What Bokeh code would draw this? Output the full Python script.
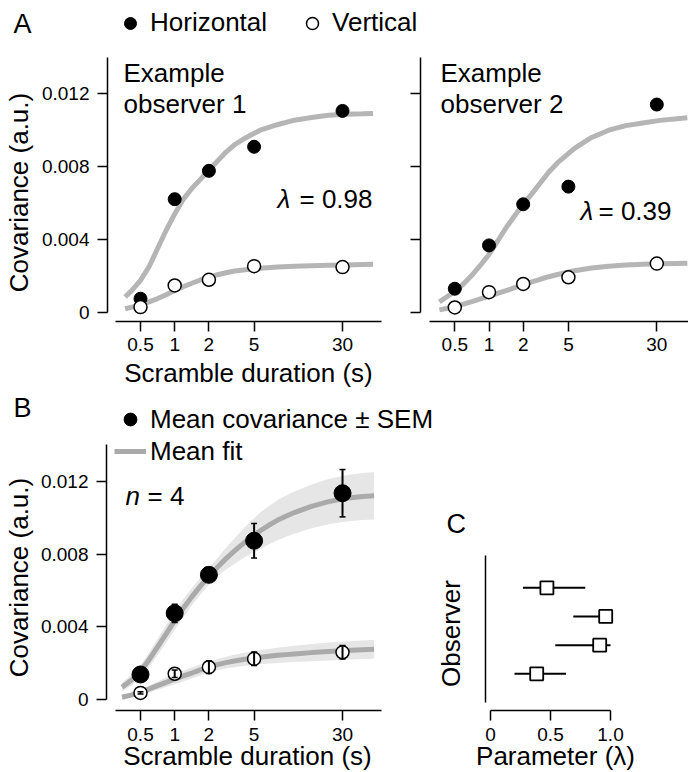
import math
from bokeh.plotting import figure
from bokeh.models import (Range1d, FixedTicker, Label, Legend, LegendItem, LogAxis,
                          LinearAxis, LogScale, LinearScale, ColumnDataSource,
                          Whisker, TeeHead)
from bokeh.embed import file_html
from bokeh.resources import INLINE

FONT = "Liberation Sans"

# ---------------- data ----------------
durations = [0.5, 1, 2, 5, 30]
duration_ticks = [0.5, 1, 2, 5, 30]
duration_tick_labels = ["0.5", "1", "2", "5", "30"]
cov_ticks = [0, 0.004, 0.008, 0.012]
cov_tick_labels = ["0", "0.004", "0.008", "0.012"]

# Panel A: example observers
obs1_horizontal = [0.00074, 0.00621, 0.00777, 0.00909, 0.01106]
obs1_vertical = [0.00028, 0.00147, 0.00178, 0.00253, 0.00248]
obs2_horizontal = [0.00129, 0.00367, 0.00593, 0.00690, 0.01141]
obs2_vertical = [0.00026, 0.00110, 0.00155, 0.00192, 0.00267]

fit_durations = [0.366, 0.42, 0.5, 0.595, 0.707, 0.841, 1.0, 1.189, 1.414, 1.682, 2.0,
                 2.378, 2.828, 3.364, 4.0, 5.657, 8.0, 11.31, 16.0, 22.63, 32.0, 45.25, 55.7]
obs1_fit_horizontal = [0.00083, 0.0012, 0.00175, 0.0025, 0.0035, 0.0045, 0.0054, 0.0062,
                       0.0068, 0.0073, 0.0078, 0.0083, 0.0088, 0.0092, 0.0095, 0.0100,
                       0.0103, 0.01055, 0.0107, 0.01082, 0.01088, 0.0109, 0.01092]
obs1_fit_vertical = [0.00019, 0.00028, 0.00042, 0.00057, 0.00075, 0.00096, 0.00119, 0.0014,
                     0.00159, 0.00177, 0.00193, 0.00206, 0.00217, 0.00226, 0.00232, 0.00242,
                     0.00248, 0.00252, 0.00255, 0.00258, 0.0026, 0.00262, 0.00263]
obs2_fit_horizontal = [0.00057, 0.00082, 0.00114, 0.00155, 0.00203, 0.00258, 0.00317, 0.0039,
                       0.00464, 0.0053, 0.00593, 0.0065, 0.0071, 0.0077, 0.0082, 0.0090,
                       0.0096, 0.0100, 0.01025, 0.0104, 0.01054, 0.01063, 0.01068]
obs2_fit_vertical = [0.00013, 0.0002, 0.00031, 0.00044, 0.00058, 0.00073, 0.00087, 0.00103,
                     0.00118, 0.00135, 0.00151, 0.00166, 0.00181, 0.00195, 0.00207, 0.00228,
                     0.00243, 0.00253, 0.00259, 0.00263, 0.00266, 0.00268, 0.00269]
obs1_lambda = "0.98"
obs2_lambda = "0.39"

# Panel B: mean over observers
mean_horizontal = [0.00139, 0.00475, 0.00686, 0.00873, 0.01134]
sem_horizontal = [0.00015, 0.0005, 0.0002, 0.00095, 0.0013]
mean_vertical = [0.00038, 0.00143, 0.00179, 0.00225, 0.00261]
sem_vertical = [0.00006, 0.0002, 0.00035, 0.00037, 0.00037]

mean_fit_durations = [0.344, 0.42, 0.5, 0.595, 0.707, 0.841, 1.0, 1.189, 1.414, 1.682, 2.0,
                      2.378, 2.828, 3.364, 4.0, 4.757, 5.657, 6.727, 8.0, 9.514, 11.31,
                      16.0, 22.63, 32.0, 45.25, 56.9]
mean_fit_horizontal = [0.00069, 0.0011, 0.00155, 0.0022, 0.0029, 0.00362, 0.00435, 0.00502,
                       0.00565, 0.00624, 0.00678, 0.00728, 0.00775, 0.00817, 0.00857, 0.00894,
                       0.00928, 0.00958, 0.00985, 0.01008, 0.01028, 0.01062, 0.01088, 0.01106,
                       0.01116, 0.0112]
band_horizontal_halfwidth = [0.00025, 0.0003, 0.00035, 0.0004, 0.00045, 0.00048, 0.0005, 0.0005,
                             0.00048, 0.00046, 0.00046, 0.0005, 0.0006, 0.0007, 0.0008, 0.0009,
                             0.001, 0.00105, 0.0011, 0.00113, 0.00116, 0.0012, 0.00124, 0.00127,
                             0.00129, 0.0013]
mean_fit_vertical = [0.00014, 0.00027, 0.00042, 0.00059, 0.00078, 0.00096, 0.00114, 0.00131,
                     0.00147, 0.00164, 0.0018, 0.00193, 0.00204, 0.00213, 0.00221, 0.00228,
                     0.00234, 0.00239, 0.00244, 0.00248, 0.00252, 0.00259, 0.00265, 0.0027,
                     0.00275, 0.00278]
band_vertical_halfwidth = [0.0001, 0.00013, 0.00017, 0.0002, 0.00023, 0.00026, 0.00028, 0.00029,
                           0.0003, 0.0003, 0.0003, 0.00031, 0.00032, 0.00034, 0.00036, 0.00037,
                           0.00039, 0.0004, 0.00042, 0.00043, 0.00045, 0.00047, 0.00049, 0.0005,
                           0.00051, 0.00052]
n_observers = "4"

# Panel C: fitted parameter per observer (bottom to top)
observers = [1, 2, 3, 4]
lambda_estimate = [0.385, 0.91, 0.96, 0.47]
lambda_low = [0.20, 0.54, 0.69, 0.27]
lambda_high = [0.63, 1.0, 1.0, 0.79]
lambda_ticks = [0, 0.5, 1.0]
lambda_tick_labels = ["0", "0.5", "1.0"]

# ---------------- layout helpers (page pixels) ----------------
W, H = 688, 772
FIT_COLOR = "#b5b5b5"
MEAN_FIT_COLOR = "#aaaaaa"
BAND_COLOR = "#e6e6e6"
TICK_SIZE = "19px"
TITLE_PX = 26
TITLE_SIZE = "%dpx" % TITLE_PX


def log_range(px_at, val_at, ppd):
    return Range1d(val_at * 2 ** (-px_at / ppd), val_at * 2 ** ((W - px_at) / ppd))


def log_at(px, px_at, val_at, ppd):
    return val_at * 2 ** ((px - px_at) / ppd)


def lin_x_range(p0, p1, v0, v1):
    k = (v1 - v0) / (p1 - p0)
    return Range1d(v0 - p0 * k, v0 + (W - p0) * k)


def lin_y_range(p0, p1, v0, v1):
    k = (v1 - v0) / (p0 - p1)
    return Range1d(v0 - (H - p0) * k, v0 + p0 * k)


def lin_at(px, p0, p1, v0, v1):
    return v0 + (px - p0) * (v1 - v0) / (p1 - p0)


# scale anchors
AX = (140, 0.5, 34.2)            # panel A left and panel B duration axis
A2X = (454.3, 0.5, 34.2)         # panel A right duration axis
AY = (311.7, 93.3, 0, 0.012)     # panel A covariance axis
BY = (699.3, 480.7, 0, 0.012)    # panel B covariance axis
CX = (490, 610, 0, 1)            # panel C parameter axis
CY = (673.3, 587.3, 1, 4)        # panel C observer axis

p = figure(width=W, height=H, x_axis_type="log", x_axis_location=None, y_axis_location=None,
           x_range=log_range(*AX), y_range=lin_y_range(*AY), title=None,
           output_backend="svg", toolbar_location=None,
           min_border=0, min_border_left=0, min_border_right=0,
           min_border_top=0, min_border_bottom=0)
p.extra_x_ranges = {"a2": log_range(*A2X), "c": lin_x_range(*CX)}
p.extra_x_scales = {"a2": LogScale(), "c": LinearScale()}
p.extra_y_ranges = {"b": lin_y_range(*BY), "c": lin_y_range(*CY)}
p.extra_y_scales = {"b": LinearScale(), "c": LinearScale()}
p.outline_line_color = None
p.grid.visible = False
p.background_fill_color = "white"
p.border_fill_color = "white"


def add_axis(kind, side, ticks, labels, bounds, fixed, x_name="default", y_name="default",
             tick_out=10, standoff=8, label_size=TICK_SIZE):
    ax = kind(x_range_name=x_name, y_range_name=y_name, fixed_location=fixed, bounds=bounds)
    ax.ticker = FixedTicker(ticks=ticks, minor_ticks=[])
    overrides = {}
    for t, l in zip(ticks, labels):
        overrides[t] = l
        overrides[str(t)] = l
    ax.major_label_overrides = overrides
    ax.axis_line_width = 1.5
    ax.axis_line_color = "black"
    ax.major_tick_line_width = 1.5
    ax.major_tick_line_color = "black"
    ax.major_tick_out = tick_out
    ax.major_tick_in = 0
    ax.minor_tick_line_color = None
    ax.major_label_text_font = FONT
    ax.major_label_text_font_size = label_size
    ax.major_label_text_color = "black"
    ax.major_label_standoff = standoff
    p.add_layout(ax, side)
    return ax


def add_text(X, Y, text, size_px=TITLE_PX, style="normal", align="left", vertical=False):
    # X, Y: page position of the text's baseline start (or baseline centre)
    shift = 0.35 * size_px
    if vertical:
        x, y, angle = X - shift, H - Y, math.pi / 2
    else:
        x, y, angle = X, H - Y + shift, 0.0
    p.add_layout(Label(x=x, y=y, x_units="screen", y_units="screen", text=text,
                       text_font=FONT, text_font_size="%dpx" % size_px,
                       text_font_style=style, text_color="black", text_align=align,
                       text_baseline="alphabetic", angle=angle))


# ---------------- axes ----------------
a_xaxis_y = lin_at(321, *AY)
b_xaxis_y = lin_at(710, *BY)
add_axis(LogAxis, "below", duration_ticks, duration_tick_labels,
         (log_at(115, *AX), log_at(381, *AX)), a_xaxis_y, standoff=6)
add_axis(LinearAxis, "left", cov_ticks, cov_tick_labels, (0, 0.014),
         log_at(107, *AX), standoff=8)
add_axis(LogAxis, "below", duration_ticks, duration_tick_labels,
         (log_at(429, *A2X), log_at(W, *A2X)), a_xaxis_y, x_name="a2", standoff=6)
add_axis(LinearAxis, "left", cov_ticks, ["" for _ in cov_ticks], (0, 0.014),
         log_at(420, *A2X), x_name="a2", standoff=0, label_size="0px")
add_axis(LogAxis, "below", duration_ticks, duration_tick_labels,
         (log_at(115, *AX), log_at(381, *AX)), b_xaxis_y, y_name="b", standoff=7)
add_axis(LinearAxis, "left", cov_ticks, cov_tick_labels, (0, 0.014),
         log_at(106, *AX), y_name="b", standoff=8)
add_axis(LinearAxis, "below", lambda_ticks, lambda_tick_labels, (0, 1.0),
         lin_at(710, *CY), x_name="c", y_name="c", standoff=7)
add_axis(LinearAxis, "left", [], [], (lin_at(702, *CY), lin_at(555, *CY)),
         lin_at(485, *CX), x_name="c", y_name="c", tick_out=0, standoff=0)

# ---------------- Panel A ----------------
p.line(fit_durations, obs1_fit_horizontal, line_color=FIT_COLOR, line_width=5)
p.line(fit_durations, obs1_fit_vertical, line_color=FIT_COLOR, line_width=5)
rA_h = p.scatter(durations, obs1_horizontal, marker="circle", size=13,
                 fill_color="black", line_color="black")
rA_v = p.scatter(durations, obs1_vertical, marker="circle", size=13,
                 fill_color="white", line_color="black", line_width=1.5)

p.line(fit_durations, obs2_fit_horizontal, line_color=FIT_COLOR, line_width=5, x_range_name="a2")
p.line(fit_durations, obs2_fit_vertical, line_color=FIT_COLOR, line_width=5, x_range_name="a2")
p.scatter(durations, obs2_horizontal, marker="circle", size=13, x_range_name="a2",
          fill_color="black", line_color="black")
p.scatter(durations, obs2_vertical, marker="circle", size=13, x_range_name="a2",
          fill_color="white", line_color="black", line_width=1.5)

add_text(13, 33, "A", size_px=27)
add_text(123, 82, "Example")
add_text(123, 113, "observer 1")
add_text(277, 208, "\u03bb", style="italic")
add_text(299, 208, "= " + obs1_lambda)
add_text(440, 82, "Example")
add_text(440, 113, "observer 2")
add_text(580, 220, "\u03bb", style="italic")
add_text(598, 220, "= " + obs2_lambda)
add_text(28, 192, "Covariance (a.u.)", align="center", vertical=True)
add_text(248, 382, "Scramble duration (s)", align="center")

legA = Legend(items=[LegendItem(label="Horizontal", renderers=[rA_h]),
                     LegendItem(label="Vertical", renderers=[rA_v])],
              orientation="horizontal", location=(115, H - 38),
              glyph_width=30, glyph_height=30, label_standoff=5, spacing=30,
              padding=0, margin=0, border_line_color=None, background_fill_alpha=0,
              label_text_font=FONT, label_text_font_size=TITLE_SIZE, label_text_color="black")
p.add_layout(legA)

# ---------------- Panel B ----------------
p.varea(x=mean_fit_durations,
        y1=[m - h for m, h in zip(mean_fit_horizontal, band_horizontal_halfwidth)],
        y2=[m + h for m, h in zip(mean_fit_horizontal, band_horizontal_halfwidth)],
        fill_color=BAND_COLOR, y_range_name="b")
p.varea(x=mean_fit_durations,
        y1=[m - h for m, h in zip(mean_fit_vertical, band_vertical_halfwidth)],
        y2=[m + h for m, h in zip(mean_fit_vertical, band_vertical_halfwidth)],
        fill_color=BAND_COLOR, y_range_name="b")
rB_fit = p.line(mean_fit_durations, mean_fit_horizontal, line_color=MEAN_FIT_COLOR,
                line_width=5, y_range_name="b")
p.line(mean_fit_durations, mean_fit_vertical, line_color=MEAN_FIT_COLOR, line_width=5,
       y_range_name="b")

srcB = ColumnDataSource(dict(
    x=durations,
    h=mean_horizontal,
    h_up=[m + s for m, s in zip(mean_horizontal, sem_horizontal)],
    h_lo=[m - s for m, s in zip(mean_horizontal, sem_horizontal)],
    v=mean_vertical,
    v_up=[m + s for m, s in zip(mean_vertical, sem_vertical)],
    v_lo=[m - s for m, s in zip(mean_vertical, sem_vertical)],
))
rB_h = p.scatter("x", "h", source=srcB, marker="circle", size=17, y_range_name="b",
                 fill_color="black", line_color="black")
p.scatter("x", "v", source=srcB, marker="circle", size=13, y_range_name="b",
          fill_color="white", line_color="black", line_width=1.5)
for up, lo in (("h_up", "h_lo"), ("v_up", "v_lo")):
    p.add_layout(Whisker(base="x", upper=up, lower=lo, source=srcB, dimension="height",
                         y_range_name="b", line_color="black", line_width=2, level="overlay",
                         upper_head=TeeHead(size=6, line_width=1.5, line_color="black"),
                         lower_head=TeeHead(size=6, line_width=1.5, line_color="black")))

add_text(13, 417, "B", size_px=27)
add_text(125, 505, "n", style="italic")
add_text(147, 505, "= " + n_observers)
add_text(28, 577, "Covariance (a.u.)", align="center", vertical=True)
add_text(247, 765, "Scramble duration (s)", align="center")

legB = Legend(items=[LegendItem(label="Mean covariance \u00b1 SEM", renderers=[rB_h]),
                     LegendItem(label="Mean fit", renderers=[rB_fit])],
              orientation="vertical", location=(114, H - 467),
              glyph_width=32, glyph_height=32, label_standoff=4, spacing=-4,
              padding=0, margin=0, border_line_color=None, background_fill_alpha=0,
              label_text_font=FONT, label_text_font_size=TITLE_SIZE, label_text_color="black")
p.add_layout(legB)

# ---------------- Panel C ----------------
p.segment(x0=lambda_low, y0=observers, x1=lambda_high, y1=observers,
          line_color="black", line_width=2, x_range_name="c", y_range_name="c")
p.scatter(lambda_estimate, observers, marker="square", size=13,
          fill_color="white", line_color="black", line_width=1.8,
          x_range_name="c", y_range_name="c")
add_text(446, 533, "C", size_px=27)
add_text(460, 633, "Observer", align="center", vertical=True)
add_text(555, 765, "Parameter (\u03bb)", align="center")

open("out.html", "w").write(file_html(p, INLINE))
